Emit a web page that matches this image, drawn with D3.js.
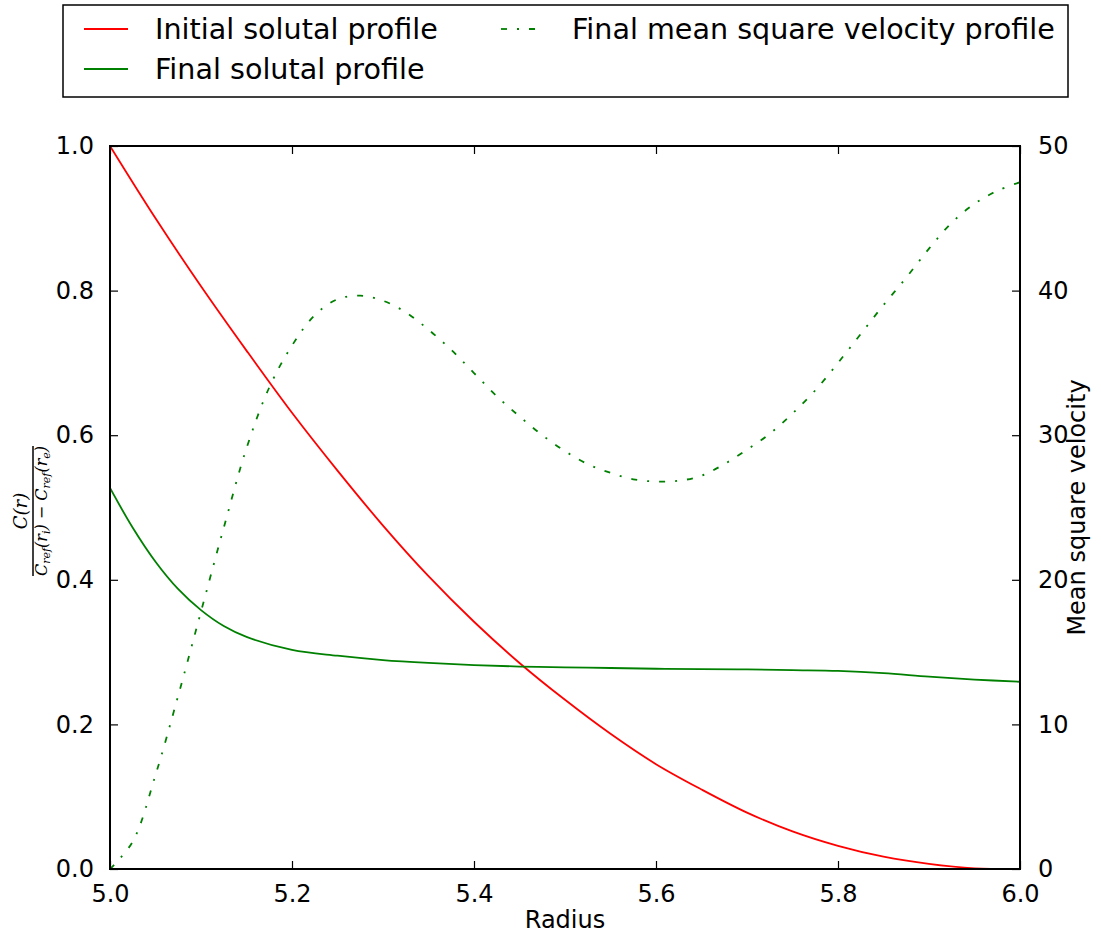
<!DOCTYPE html>
<html>
<head>
<meta charset="utf-8">
<script src="https://cdn.jsdelivr.net/npm/d3@7"></script>
<style>
  html, body { margin: 0; padding: 0; background: #fff; }
  svg { display: block; font-family: "DejaVu Sans", sans-serif; }
</style>
</head>
<body>
<svg id="chart" width="1101" height="934"></svg>
<script>
// ---- Data ----
const radiusInitial = [5.00,5.05,5.10,5.15,5.20,5.25,5.30,5.35,5.40,5.45,5.50,5.55,5.60,5.65,5.70,5.75,5.80,5.85,5.90,5.95,6.00];
const initialProfile = [1.000,0.900,0.806,0.717,0.631,0.551,0.475,0.405,0.342,0.285,0.234,0.187,0.145,0.110,0.078,0.052,0.032,0.017,0.007,0.001,0.000];

const radiusFinal = [5.00,5.025,5.05,5.075,5.10,5.125,5.15,5.20,5.25,5.30,5.35,5.40,5.45,5.50,5.55,5.60,5.65,5.70,5.75,5.80,5.85,5.90,5.95,6.00];
const finalProfile = [0.527,0.472,0.425,0.387,0.358,0.336,0.321,0.303,0.295,0.289,0.285,0.282,0.280,0.279,0.278,0.277,0.2765,0.276,0.275,0.274,0.271,0.266,0.262,0.259];

const radiusVelocity = [5.000,5.025,5.050,5.075,5.100,5.125,5.150,5.175,5.200,5.225,5.250,5.275,5.300,5.325,5.350,5.375,5.400,5.425,5.450,5.475,5.500,5.525,5.550,5.575,5.600,5.625,5.650,5.675,5.700,5.725,5.750,5.775,5.800,5.825,5.850,5.875,5.900,5.925,5.950,5.975,6.000];
const meanSquareVelocity = [0.0,1.9,6.5,12.0,17.8,23.6,29.1,33.3,36.2,38.3,39.4,39.65,39.3,38.5,37.3,35.9,34.3,32.7,31.3,30.0,28.9,28.0,27.4,26.95,26.8,26.85,27.2,28.0,29.0,30.1,31.5,33.1,35.0,37.0,39.0,40.9,42.9,44.7,46.0,46.9,47.5];

const xTicks = [5.0,5.2,5.4,5.6,5.8,6.0];
const yLeftTicks = [0.0,0.2,0.4,0.6,0.8,1.0];
const yRightTicks = [0,10,20,30,40,50];

const legendItems = [
  {label: "Initial solutal profile", color: "#ff0000", dash: null},
  {label: "Final solutal profile", color: "#008000", dash: null},
  {label: "Final mean square velocity profile", color: "#008000", dash: "6,10,2,10"}
];

// ---- Layout ----
const svg = d3.select("#chart");
const L = 110, R = 1020, T = 146, B = 869;

const x = d3.scaleLinear().domain([5.0, 6.0]).range([L, R]);
const yL = d3.scaleLinear().domain([0, 1]).range([B, T]);
const yR = d3.scaleLinear().domain([0, 50]).range([B, T]);

svg.append("defs").append("clipPath").attr("id", "clip")
  .append("rect").attr("x", L).attr("y", T).attr("width", R - L).attr("height", B - T);

const plot = svg.append("g").attr("clip-path", "url(#clip)");

const lineL = (xs) => d3.line().x((d, i) => x(xs[i])).y(d => yL(d)).curve(d3.curveCatmullRom.alpha(0.5));
const lineR = (xs) => d3.line().x((d, i) => x(xs[i])).y(d => yR(d)).curve(d3.curveCatmullRom.alpha(0.5));

plot.append("path").datum(initialProfile)
  .attr("d", lineL(radiusInitial))
  .attr("fill", "none").attr("stroke", "#ff0000").attr("stroke-width", 1.8);

plot.append("path").datum(finalProfile)
  .attr("d", lineL(radiusFinal))
  .attr("fill", "none").attr("stroke", "#008000").attr("stroke-width", 1.8);

plot.append("path").datum(meanSquareVelocity)
  .attr("d", lineR(radiusVelocity))
  .attr("fill", "none").attr("stroke", "#008000").attr("stroke-width", 1.8)
  .attr("stroke-dasharray", "6,10,2,10");

// ---- Axes (inward ticks, classic style) ----
const tickLen = 8;
const fmt1 = d3.format(".1f");

const axBottom = d3.axisBottom(x).tickValues(xTicks).tickFormat(fmt1).tickSizeInner(-tickLen).tickSizeOuter(0).tickPadding(tickLen + 8);
const axTop = d3.axisTop(x).tickValues(xTicks).tickFormat("").tickSizeInner(-tickLen).tickSizeOuter(0);
const axLeft = d3.axisLeft(yL).tickValues(yLeftTicks).tickFormat(fmt1).tickSizeInner(-tickLen).tickSizeOuter(0).tickPadding(tickLen + 8);
const axRight = d3.axisRight(yR).tickValues(yRightTicks).tickFormat(d3.format("d")).tickSizeInner(-tickLen).tickSizeOuter(0).tickPadding(tickLen + 10);

function styleAxis(g) {
  g.select(".domain").remove();
  g.selectAll(".tick line").attr("stroke", "#000").attr("stroke-width", 1.2);
  g.selectAll(".tick text").attr("fill", "#000").attr("font-size", 24).attr("font-family", "DejaVu Sans, sans-serif");
}
svg.append("g").attr("transform", `translate(0,${B})`).call(axBottom).call(styleAxis)
  .selectAll(".tick text").attr("dy", "0.71em");
svg.append("g").attr("transform", `translate(0,${T})`).call(axTop).call(styleAxis);
svg.append("g").attr("transform", `translate(${L},0)`).call(axLeft).call(styleAxis);
svg.append("g").attr("transform", `translate(${R},0)`).call(axRight).call(styleAxis);

// frame
svg.append("rect").attr("x", L).attr("y", T).attr("width", R - L).attr("height", B - T)
  .attr("fill", "none").attr("stroke", "#000").attr("stroke-width", 2);

// ---- Axis labels ----
svg.append("text").attr("x", (L + R) / 2).attr("y", 928).attr("text-anchor", "middle")
  .attr("font-size", 24).text("Radius");

svg.append("text").attr("transform", `translate(1085,${(T + B) / 2}) rotate(-90)`)
  .attr("text-anchor", "middle").attr("font-size", 24).text("Mean square velocity");

// left math label: C(r) / (C_ref(r_i) - C_ref(r_e))
const mg = svg.append("g").attr("transform", `translate(33,511) rotate(-90)`)
  .attr("font-family", "DejaVu Serif, serif").attr("font-style", "italic").attr("fill", "#000");
mg.append("line").attr("x1", -65).attr("x2", 65).attr("y1", 0).attr("y2", 0)
  .attr("stroke", "#000").attr("stroke-width", 1.5);
mg.append("text").attr("x", 0).attr("y", -6).attr("text-anchor", "middle").attr("font-size", 18)
  .text("C(r)");
const den = mg.append("text").attr("x", 0).attr("y", 14).attr("text-anchor", "middle").attr("font-size", 16);
den.append("tspan").text("C");
den.append("tspan").attr("font-size", 11).attr("dy", 3).text("ref");
den.append("tspan").attr("dy", -3).text("(r");
den.append("tspan").attr("font-size", 11).attr("dy", 3).text("i");
den.append("tspan").attr("dy", -3).text(") ");
den.append("tspan").attr("font-style", "normal").text("− ");
den.append("tspan").text("C");
den.append("tspan").attr("font-size", 11).attr("dy", 3).text("ref");
den.append("tspan").attr("dy", -3).text("(r");
den.append("tspan").attr("font-size", 11).attr("dy", 3).text("e");
den.append("tspan").attr("dy", -3).text(")");

// ---- Legend ----
const lg = svg.append("g");
lg.append("rect").attr("x", 63).attr("y", 5).attr("width", 1005).attr("height", 92)
  .attr("fill", "#fff").attr("stroke", "#000").attr("stroke-width", 1.5);
const legendPos = [
  {lx: 84, ty: 29},
  {lx: 84, ty: 69},
  {lx: 501, ty: 29}
];
legendItems.forEach((item, i) => {
  const p = legendPos[i];
  lg.append("line").attr("x1", p.lx).attr("x2", p.lx + 44).attr("y1", p.ty).attr("y2", p.ty)
    .attr("stroke", item.color).attr("stroke-width", 1.8)
    .attr("stroke-dasharray", item.dash);
  lg.append("text").attr("x", p.lx + 71).attr("y", p.ty).attr("dy", "0.35em")
    .attr("font-size", 28.6).text(item.label);
});
</script>
</body>
</html>
